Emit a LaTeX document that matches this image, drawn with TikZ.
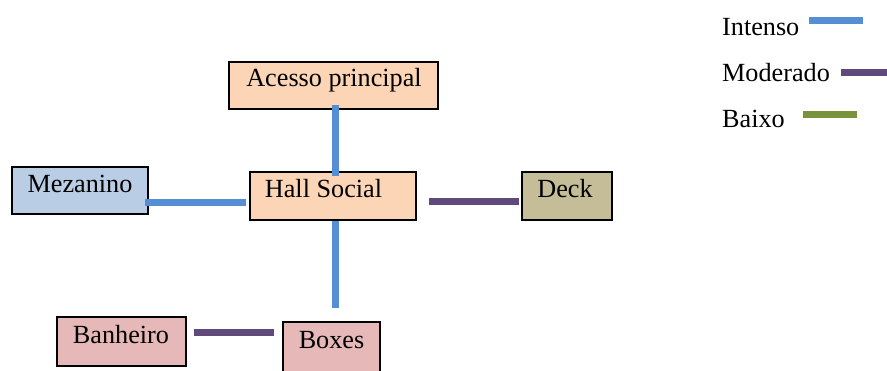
\documentclass[tikz,border=0pt]{standalone}
\usepackage{fontspec}
\setmainfont{Liberation Serif}
\usetikzlibrary{calc}
\definecolor{intenso}{HTML}{558ED5}
\definecolor{moderado}{HTML}{604A7B}
\definecolor{baixo}{HTML}{77933C}
\definecolor{peach}{HTML}{FBD5B5}
\definecolor{paleblue}{HTML}{B9CDE5}
\definecolor{khaki}{HTML}{C4BD97}
\definecolor{rose}{HTML}{E6B9B8}
\tikzset{
  room/.style={draw=black, line width=2pt, inner sep=0pt, rectangle},
  lbl/.style={anchor=base, inner sep=0pt, font=\fontsize{26.2}{30}\selectfont},
  link/.style={line width=7pt},
}
\begin{document}
\begin{tikzpicture}[x=1pt, y=-1pt]
\clip (0,0) rectangle (887,370);
\useasboundingbox (0,0) rectangle (887,370);
\fill[white] (0,0) rectangle (887,370);

% rooms
\node[room, fill=peach, minimum width=209pt, minimum height=47pt] (acc) at (333.5,85.5) {};
\node[room, fill=paleblue, minimum width=136pt, minimum height=47pt] (mez) at (80,190.5) {};
\node[room, fill=peach, minimum width=166pt, minimum height=48pt] (hall) at (333,196) {};
\node[room, fill=khaki, minimum width=90pt, minimum height=48pt] (deck) at (567,196) {};
\node[room, fill=rose, minimum width=129pt, minimum height=49pt] (ban) at (121.5,341.5) {};
\node[room, fill=rose, minimum width=97pt, minimum height=50pt] (box) at (331.5,347) {};

% room names
\node[lbl] (accT) at (334,86) {Acesso principal};
\node[lbl] (mezT) at (80,192) {Mezanino};
\node[lbl] (hallT) at (323.5,197) {Hall Social};
\node[lbl] (deckT) at (565,197) {Deck};
\node[lbl] (banT) at (121,343) {Banheiro};
\node[lbl] (boxT) at (331.5,348) {Boxes};

% connections
\draw[link, intenso] ($(acc.south)+(1.5,-5)$) -- ($(hall.north)+(2,5)$);
\draw[link, intenso] ($(hall.south)+(2,0)$) -- ($(box.north)+(3.5,-13)$);
\draw[link, intenso] ($(mez.east)+(-4,11.5)$) -- ($(hall.west)+(-3,6)$);
\draw[link, moderado] ($(hall.east)+(12,5)$) -- ($(deck.west)+(-2,5)$);
\draw[link, moderado] ($(ban.east)+(7,-9.5)$) -- ($(box.west)+(-8,-15)$);

% legend
\node[lbl, anchor=base west] (legI) at (722,35) {Intenso};
\node[lbl, anchor=base west] (legM) at (722,81) {Moderado};
\node[lbl, anchor=base west] (legB) at (722,127) {Baixo};
\coordinate (i1) at (809,20); \coordinate (i2) at (863,20);
\coordinate (m1) at (841,72); \coordinate (m2) at (888,72);
\coordinate (b1) at (803,114.5); \coordinate (b2) at (857,114.5);
\draw[link, intenso] (i1) -- (i2);
\draw[link, moderado] (m1) -- (m2);
\draw[link, baixo] (b1) -- (b2);
\end{tikzpicture}
\end{document}
